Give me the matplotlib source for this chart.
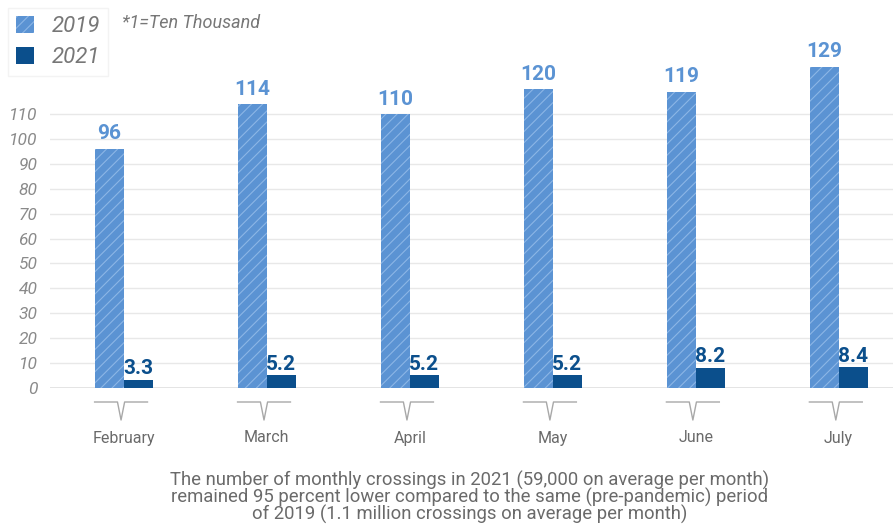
import matplotlib.pyplot as plt
import numpy as np
from matplotlib.patches import Patch

months = ['February', 'March', 'April', 'May', 'June', 'July']
v2019 = [96, 114, 110, 120, 119, 129]
v2021 = [3.3, 5.2, 5.2, 5.2, 8.2, 8.4]
lab2019 = ['96', '114', '110', '120', '119', '129']
lab2021 = ['3.3', '5.2', '5.2', '5.2', '8.2', '8.4']
yticks = [0, 10, 20, 30, 40, 50, 60, 70, 80, 90, 100, 110]
caption = ('The number of monthly crossings in 2021 (59,000 on average per month)\n'
           'remained 95 percent lower compared to the same (pre-pandemic) period\n'
           'of 2019 (1.1 million crossings on average per month)')

c19 = '#5b93d3'
c21 = '#0b4f8c'
grey = '#8a8a8a'

plt.rcParams['font.family'] = ['Roboto', 'DejaVu Sans']
plt.rcParams['hatch.linewidth'] = 0.8

fig = plt.figure(figsize=(8.93, 5.26), dpi=100)
ax = fig.add_axes([50 / 893, 138 / 526, 843 / 893, 388 / 526])

x = np.arange(len(months))
w = 0.203
ax.bar(x, v2019, width=-w, align='edge', color=c19, edgecolor='#8cb6e6',
       hatch='///', linewidth=0, zorder=3)
ax.bar(x, v2021, width=w, align='edge', color=c21, linewidth=0, zorder=3)

for i in range(len(months)):
    ax.annotate(lab2019[i], (x[i] - w / 2, v2019[i]), xytext=(0, 4),
                textcoords='offset points', ha='center', va='bottom',
                fontsize=15, fontweight='bold', color=c19)
    ax.annotate(lab2021[i], (x[i] + w / 2, v2021[i]), xytext=(0, 1),
                textcoords='offset points', ha='center', va='bottom',
                fontsize=15, fontweight='bold', color=c21)

ax.set_xlim(-0.517, 5.38)
ax.set_ylim(0, 155.8)
ax.set_yticks(yticks)
ax.set_yticklabels([str(t) for t in yticks], fontsize=12.5, fontstyle='italic', color=grey)
ax.tick_params(axis='y', length=0, pad=9)
ax.set_xticks([])
for s in ax.spines.values():
    s.set_visible(False)
ax.grid(axis='y', color='#e8e8e8', linewidth=1, zorder=0)
ax.axhline(0, color='#e0e0e0', linewidth=1.2, zorder=2)

# bracket ticks and month names under each group
trans = ax.get_xaxis_transform()
y_top = -14 / 388
y_tip = -32 / 388
for i in range(len(months)):
    c = x[i] - 0.02
    ax.plot([c - 0.185, c - 0.025, c, c + 0.025, c + 0.185],
            [y_top, y_top, y_tip, y_top, y_top], transform=trans,
            color='#a8a8a8', linewidth=1, clip_on=False)
    ax.text(x[i], -50 / 388, months[i], transform=trans, ha='center',
            va='center', fontsize=11.5, color='#6a6a6a')

fig.text(470 / 893, 1 - 497 / 526, caption, ha='center', va='center',
         fontsize=13.3, color='#6a6a6a', linespacing=0.85)

handles = [Patch(facecolor=c19, edgecolor='#8cb6e6', hatch='///', linewidth=0),
           Patch(facecolor=c21, linewidth=0)]
leg = fig.legend(handles, ['2019', '2021'], loc='upper left',
                 bbox_to_anchor=(8 / 893, 1 - 8 / 526), frameon=True,
                 fancybox=False, handlelength=0.8, handleheight=0.8,
                 handletextpad=0.8, labelspacing=0.45, borderpad=0.35,
                 borderaxespad=0, prop={'size': 16, 'style': 'italic'})
leg.get_frame().set_edgecolor('#f0f0f0')
leg.get_frame().set_linewidth(1)
for t in leg.get_texts():
    t.set_color('#777777')

fig.text(122 / 893, 1 - 23 / 526, '*1=Ten Thousand', ha='left', va='center',
         fontsize=13, fontstyle='italic', color='#777777')

fig.savefig('out.png', dpi=100)
